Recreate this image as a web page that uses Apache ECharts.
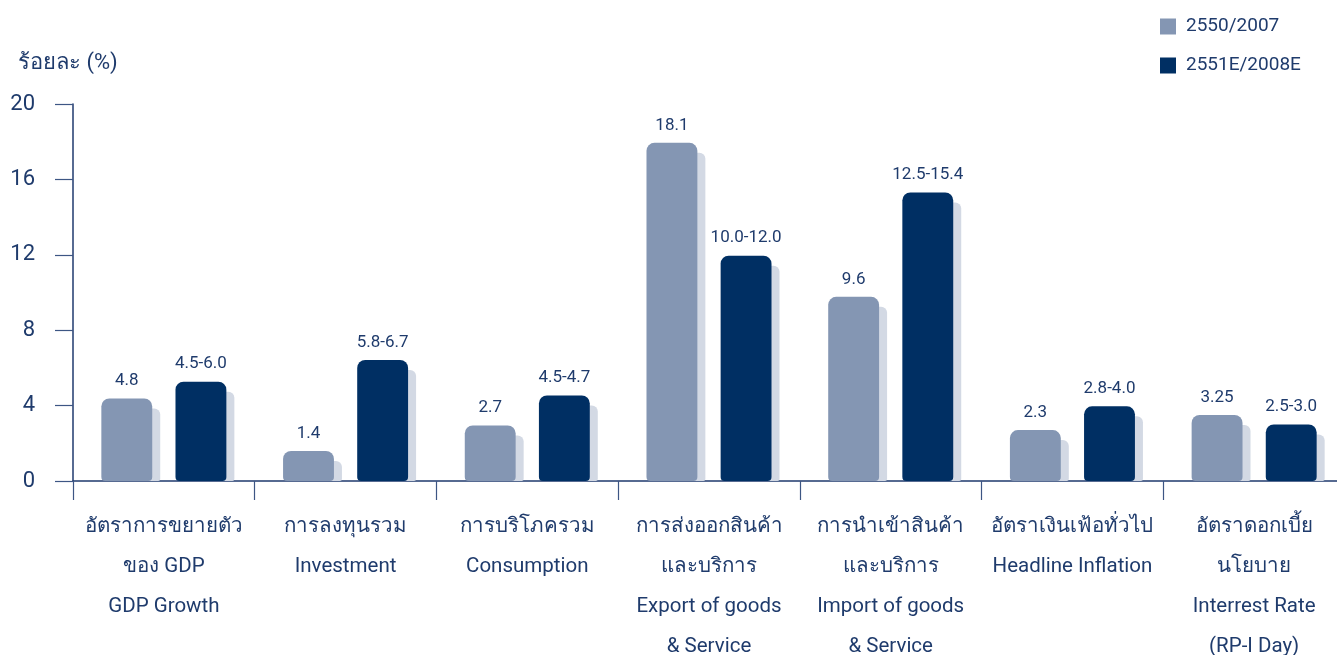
<!DOCTYPE html>
<html>
<head>
<meta charset="utf-8">
<script src="https://cdn.jsdelivr.net/npm/echarts@6/dist/echarts.min.js"></script>
<style>
html,body{margin:0;padding:0;background:#fff;}
#main{width:1337px;height:655px;}
</style>
</head>
<body>
<div id="main"></div>
<script>
var categories = [
  'อัตราการขยายตัว\nของ GDP\nGDP Growth',
  'การลงทุนรวม\nInvestment',
  'การบริโภครวม\nConsumption',
  'การส่งออกสินค้า\nและบริการ\nExport of goods\n& Service',
  'การนำเข้าสินค้า\nและบริการ\nImport of goods\n& Service',
  'อัตราเงินเฟ้อทั่วไป\nHeadline Inflation',
  'อัตราดอกเบี้ย\nนโยบาย\nInterrest Rate\n(RP-I Day)'
];
var seriesNames = ['2550/2007', '2551E/2008E'];
var values2007 = [4.38, 1.59, 2.95, 17.94, 9.77, 2.70, 3.50];
var values2008 = [5.27, 6.42, 4.54, 11.95, 15.31, 3.96, 3.00];
var labels2007 = ['4.8', '1.4', '2.7', '18.1', '9.6', '2.3', '3.25'];
var labels2008 = ['4.5-6.0', '5.8-6.7', '4.5-4.7', '10.0-12.0', '12.5-15.4', '2.8-4.0', '2.5-3.0'];
var yTicks = [0, 4, 8, 12, 16, 20];

var FONT = 'Roboto, "Noto Sans", "DejaVu Sans", sans-serif';
var TEXT = '#1f3b6c';
var AXIS = '#1f3a6e';
var C1 = '#8496b3';
var C2 = '#002f63';
var SHADOW = '#d3d9e4';

function makeRender(sign, color, labels) {
  return function (params, api) {
    var base = api.coord([api.value(0), 0]);
    var top = api.coord([api.value(0), api.value(1)]);
    var band = api.size([1, 0])[0];
    var w = band * 0.28;
    var cx = base[0] + sign * band * 0.204;
    var x = cx - w / 2;
    var h = base[1] - top[1];
    return {
      type: 'group',
      children: [
        { type: 'rect', shape: { x: x + 8, y: top[1] + 10, width: w, height: Math.max(h - 10, 0), r: [6, 6, 2, 2] }, style: { fill: SHADOW } },
        { type: 'rect', shape: { x: x, y: top[1], width: w, height: h, r: [8, 8, 4, 4] }, style: { fill: color } },
        { type: 'text', style: { text: labels[params.dataIndex], x: cx, y: top[1] - 9, align: 'center', verticalAlign: 'bottom', fill: TEXT, font: '17px ' + FONT } }
      ]
    };
  };
}

function pairs(arr) { return arr.map(function (v, i) { return [i, v]; }); }

var chart = echarts.init(document.getElementById('main'));
chart.setOption({
  backgroundColor: '#fff',
  animation: false,
  textStyle: { fontFamily: FONT },
  grid: { left: 73, right: -8, top: 104, bottom: 174, containLabel: false, outerBoundsMode: 'none' },
  legend: {
    data: seriesNames,
    orient: 'vertical',
    left: 1160, top: 17,
    padding: 0,
    itemWidth: 16, itemHeight: 16, itemGap: 20,
    icon: 'rect',
    textStyle: { fontSize: 19, color: TEXT, fontFamily: FONT, padding: [0, 0, 0, 5] }
  },
  graphic: [{
    type: 'text', left: 18, top: 52,
    style: { text: 'ร้อยละ (%)', fill: TEXT, font: '22px ' + FONT }
  }],
  xAxis: {
    type: 'category',
    data: categories,
    boundaryGap: true,
    axisLine: { show: true, lineStyle: { color: AXIS, width: 1.5 } },
    axisTick: { show: true, length: 19, lineStyle: { color: '#3d5684', width: 1.2 } },
    axisLabel: { interval: 0, fontSize: 20.5, lineHeight: 40, color: TEXT, margin: 26, fontFamily: FONT }
  },
  yAxis: {
    type: 'value',
    min: yTicks[0], max: yTicks[yTicks.length - 1], interval: 4,
    axisLine: { show: true, lineStyle: { color: AXIS, width: 1.5 } },
    axisTick: { show: true, length: 18, lineStyle: { color: '#3d5684', width: 1.2 } },
    axisLabel: { fontSize: 22, color: TEXT, margin: 38, fontFamily: FONT },
    splitLine: { show: false }
  },
  series: [
    { name: seriesNames[0], type: 'custom', itemStyle: { color: C1 }, renderItem: makeRender(-1, C1, labels2007), data: pairs(values2007), encode: { x: 0, y: 1 } },
    { name: seriesNames[1], type: 'custom', itemStyle: { color: C2 }, renderItem: makeRender(1, C2, labels2008), data: pairs(values2008), encode: { x: 0, y: 1 } }
  ]
});
</script>
</body>
</html>
